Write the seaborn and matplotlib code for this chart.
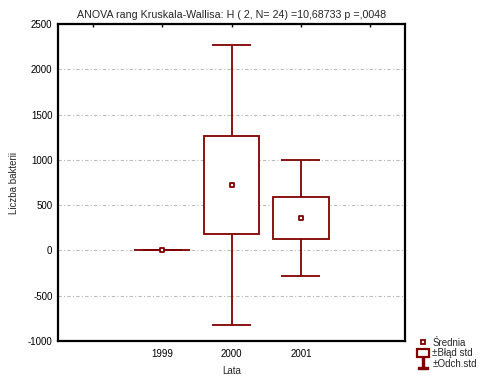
import numpy as np
import pandas as pd
import matplotlib
matplotlib.use("Agg")
import matplotlib.pyplot as plt
from matplotlib.lines import Line2D
from matplotlib.patches import Patch
import seaborn as sns

# ── data ──────────────────────────────────────────────────────
years = ["1999", "2000", "2001"]
means = [0, 722, 358]
se_vals = [0, 546, 228]
sd_vals = [0, 1545, 640]

title = "ANOVA rang Kruskala-Wallisa: H ( 2, N= 24) =10,68733 p =,0048"

df = pd.DataFrame({"rok": years, "srednia": means, "se": se_vals, "sd": sd_vals})
df["pos"] = np.arange(len(df))

sns.set_style("white")
plt.rcParams["font.family"] = ["Liberation Sans", "DejaVu Sans"]
plt.rcParams["axes.unicode_minus"] = False

col = "#800000"
lw = 1.3

fig = plt.figure(figsize=(4.88, 3.81), dpi=100)
ax = fig.add_axes([58 / 488, 1 - 341 / 381, (405 - 58) / 488, (341 - 24) / 381])

# whiskers (mean ± sd)
ax.vlines(df["pos"], df["srednia"] - df["sd"], df["srednia"] + df["sd"],
          color=col, lw=lw, zorder=2)
ax.hlines(df["srednia"] - df["sd"], df["pos"] - 0.28, df["pos"] + 0.28,
          color=col, lw=lw, zorder=2)
ax.hlines(df["srednia"] + df["sd"], df["pos"] - 0.28, df["pos"] + 0.28,
          color=col, lw=lw, zorder=2)

# boxes (mean ± se)
ax.bar(df["pos"], 2 * df["se"], bottom=df["srednia"] - df["se"], width=0.8,
       facecolor="white", edgecolor=col, linewidth=lw, zorder=3)

# mean markers
sns.scatterplot(data=df, x="pos", y="srednia", marker="s", s=9,
                facecolor="white", edgecolor=col, linewidth=1.3,
                ax=ax, zorder=4, legend=False)

ax.set_xlim(-1.5, 3.5)
ax.set_ylim(-1000, 2500)
ax.set_xticks([-1, 0, 1, 2, 3])
ax.set_xticklabels([""] + years + [""])
ax.set_yticks(np.arange(-1000, 2501, 500))
ax.tick_params(axis="both", direction="in", length=2.5, width=1, labelsize=7,
               top=True, right=False, pad=6, colors="black")
ax.tick_params(axis="y", pad=4)

ax.yaxis.grid(True, color="#bbbbbb", linestyle=(0, (3, 2, 1, 2)), linewidth=0.8)
ax.xaxis.grid(False)
ax.set_axisbelow(True)
for s in ax.spines.values():
    s.set_color("black")
    s.set_linewidth(1.6)

ax.set_xlabel("Lata", fontsize=7, labelpad=5)
ax.set_ylabel("Liczba bakterii", fontsize=7, labelpad=6)
ax.set_title(title, fontsize=7.7, pad=4)

handles = [
    Line2D([], [], marker="s", ls="none", markersize=3, markerfacecolor="white",
           markeredgecolor=col, markeredgewidth=1.3),
    Patch(facecolor="white", edgecolor=col, linewidth=1.6),
    Line2D([], [], marker="$\\perp$", ls="none", markersize=8, color=col),
]
fig.legend(handles, ["Średnia", "±Błąd std", "±Odch.std"],
           loc="upper left", bbox_to_anchor=(412 / 488, 1 - 333 / 381),
           frameon=False, fontsize=7, handlelength=1.2, handleheight=0.9,
           handletextpad=0.4, labelspacing=0.05, borderpad=0)

fig.savefig("out.png", dpi=100)
